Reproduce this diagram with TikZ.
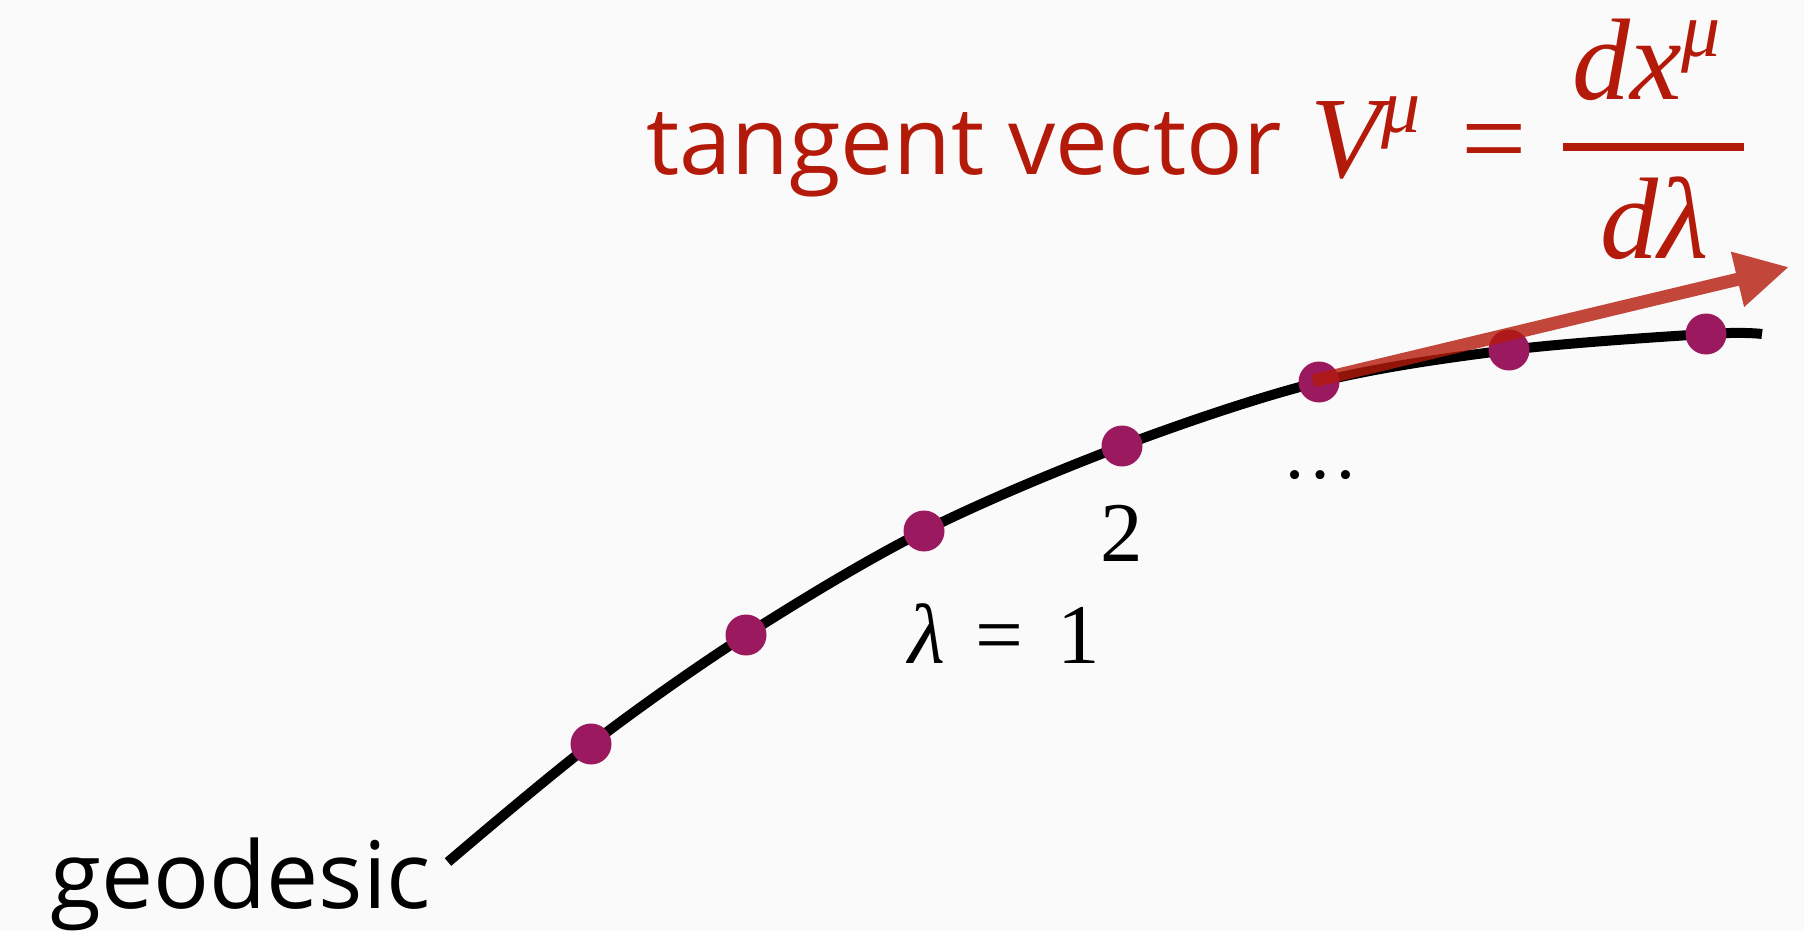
\documentclass[tikz,border=0pt]{standalone}
\usepackage{fontspec}
\usetikzlibrary{arrows.meta}
\newfontfamily\labelfont{Open Sans}
\newfontfamily\eqfont{Liberation Serif}
\definecolor{bg}{RGB}{250,250,250}
\definecolor{eqred}{RGB}{180,26,10}
\definecolor{dotpurple}{RGB}{155,25,95}
\begin{document}
\begin{tikzpicture}[x=1pt,y=-1pt,
  dotnode/.style={circle, fill=dotpurple, inner sep=0pt, minimum size=41pt},
  geo/.style={line width=10pt, black},
  sanslabel/.style={inner sep=0pt, font=\labelfont\fontsize{93}{100}\selectfont},
  eqtext/.style={inner sep=0pt, text=eqred, font=\eqfont\fontsize{116}{120}\selectfont},
  numtext/.style={inner sep=0pt, font=\eqfont\fontsize{85}{90}\selectfont},
  vec/.style={line width=13pt, eqred, -{Triangle[length=53pt,width=53pt]}},
]
\fill[bg] (0,0) rectangle (1804,931);
\useasboundingbox (0,0) rectangle (1804,931);

% geodesic points
\coordinate (c0) at (448,862);
\coordinate (c1) at (591,744);
\coordinate (c2) at (746,635);
\coordinate (c3) at (924,531);
\coordinate (c4) at (1122,446);
\coordinate (c5) at (1319,382);
\coordinate (c6) at (1509,350);
\coordinate (c7) at (1706,334);
\coordinate (c8) at (1762,334);

\draw[geo] plot[smooth, tension=0.55] coordinates {(c0) (c1) (c2) (c3) (c4) (c5) (c6) (c7) (c8)};

\foreach \i in {1,...,7} { \node[dotnode] (d\i) at (c\i) {}; }

% tangent vector arrow
\coordinate (vtail) at (1313,381);
\coordinate (vtip) at (1789,267);
\begin{scope}[transparency group, opacity=0.8]
\draw[vec] (vtail) -- (vtip);
\end{scope}

% labels
\node[sanslabel, text=eqred, anchor=base west, font=\labelfont\fontsize{94}{100}\selectfont] (tv) at (646,175) {tangent vector};
\node[sanslabel, anchor=base west] (geolabel) at (50,908) {geodesic};

\node[numtext, anchor=base west] (lam) at (908,663) {{\itshape λ}\hspace{0.36em}=\hspace{0.4em}1};
\node[numtext, anchor=base west] (two) at (1100,561) {2};
\node[inner sep=0pt, anchor=base, font=\eqfont\fontsize{76}{80}\selectfont] (more) at (1320,478) {…};

% equation
\node[eqtext, anchor=base west] (V) at (1310,177) {\itshape V\raisebox{44pt}{\fontsize{78}{80}\selectfont μ}};
\node[eqtext, anchor=base] (eqsign) at (1494,177) {=};
\coordinate (fl) at (1563,147);
\coordinate (fr) at (1744,147);
\draw[eqred, line width=8pt] (fl) -- (fr);
\node[eqtext, anchor=base west] (num) at (1572,100) {\itshape dx\raisebox{43pt}{\fontsize{78}{80}\selectfont μ}};
\node[eqtext, anchor=base west] (den) at (1600,258) {\itshape dλ};
\end{tikzpicture}
\end{document}
